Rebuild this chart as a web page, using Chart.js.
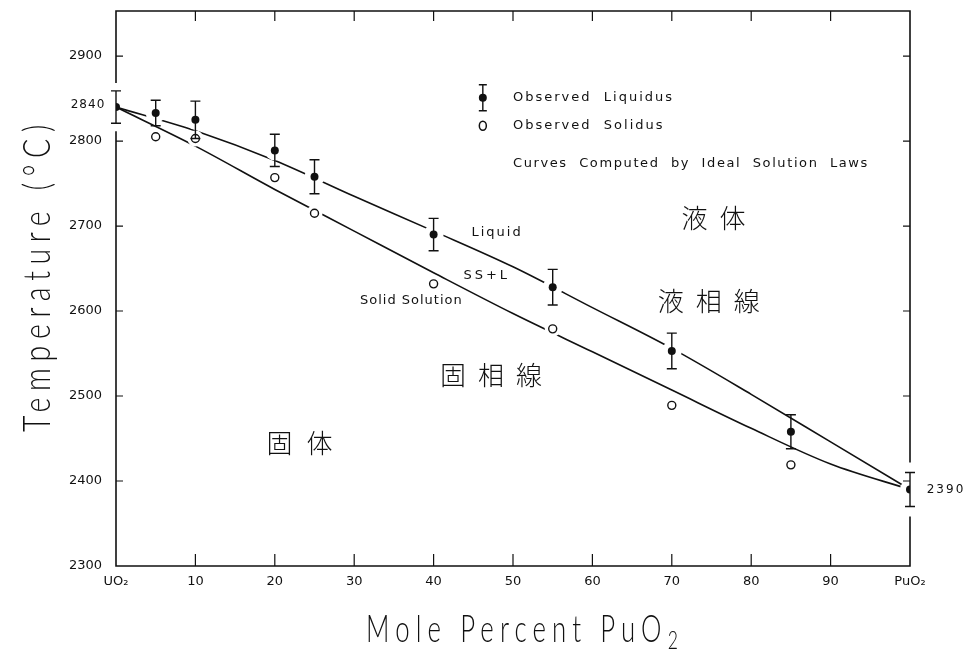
<!DOCTYPE html>
<html>
<head>
<meta charset="utf-8">
<script src="https://cdn.jsdelivr.net/npm/chart.js@4.4.1/dist/chart.umd.min.js"></script>
<style>
  html, body { margin: 0; background: #fff; }
  #wrap { width: 967px; height: 650px; }
</style>
</head>
<body>
<div id="wrap"><canvas id="grafico"></canvas></div>
<script>
// eixos
const xTicks = [0, 10, 20, 30, 40, 50, 60, 70, 80, 90, 100];
const xTickLabels = ['UO₂', '10', '20', '30', '40', '50', '60', '70', '80', '90', 'PuO₂'];
const yTicks = [2300, 2400, 2500, 2600, 2700, 2800, 2900];

// pontos observados (mol % PuO2, °C)
const obsX = [0, 5, 10, 20, 25, 40, 55, 70, 85, 100];
const liquidusObs = [2840, 2833, 2825, 2789, 2758, 2690, 2628, 2553, 2458, 2390];
const liquidusErr = [19, 15, 22, 19, 20, 19, 21, 21, 20, 20];
const solidusX = [5, 10, 20, 25, 40, 55, 70, 85];
const solidusObs = [2805, 2803, 2757, 2715, 2632, 2579, 2489, 2419];

// curvas calculadas (solucao ideal)
const curveX = [0, 10, 20, 30, 40, 50, 60, 70, 80, 90, 100];
const liquidusCurve = [2840, 2812, 2777, 2735, 2694, 2652, 2604, 2556, 2502, 2446, 2390];
const solidusCurve = [2840, 2794, 2743, 2694, 2645, 2597, 2552, 2507, 2462, 2420, 2390];

const pts = (xs, ys) => xs.map((x, i) => ({ x: x, y: ys[i] }));

const INK = '#111';

// moldura com marcas internas
const moldura = {
    id: 'moldura',
    afterDatasetsDraw(chart) {
        const { ctx, chartArea: a, scales: { x, y } } = chart;
        ctx.save();
        ctx.strokeStyle = INK;
        ctx.lineWidth = 1.6;
        const gapTopL = y.getPixelForValue(liquidusObs[0] + liquidusErr[0]) - 8;
        const gapBotL = y.getPixelForValue(liquidusObs[0] - liquidusErr[0]) + 8;
        const n = liquidusObs.length - 1;
        const gapTopR = y.getPixelForValue(liquidusObs[n] + liquidusErr[n]) - 10;
        const gapBotR = y.getPixelForValue(liquidusObs[n] - liquidusErr[n]) + 10;
        ctx.beginPath();
        ctx.moveTo(a.left, gapTopL); ctx.lineTo(a.left, a.top); ctx.lineTo(a.right, a.top); ctx.lineTo(a.right, gapTopR);
        ctx.moveTo(a.right, gapBotR); ctx.lineTo(a.right, a.bottom); ctx.lineTo(a.left, a.bottom); ctx.lineTo(a.left, gapBotL);
        ctx.stroke();
        ctx.lineWidth = 1.2;
        ctx.beginPath();
        xTicks.slice(1, -1).forEach(v => {
            const px = x.getPixelForValue(v);
            ctx.moveTo(px, a.bottom); ctx.lineTo(px, a.bottom - 12);
            ctx.moveTo(px, a.top); ctx.lineTo(px, a.top + 10);
        });
        yTicks.slice(1).forEach(v => {
            const py = y.getPixelForValue(v);
            ctx.moveTo(a.left, py); ctx.lineTo(a.left + 7, py);
            ctx.moveTo(a.right, py); ctx.lineTo(a.right - 7, py);
        });
        ctx.stroke();

        // barras de erro
        ctx.lineWidth = 1.4;
        ctx.beginPath();
        obsX.forEach((v, i) => {
            const px = x.getPixelForValue(v);
            const t = y.getPixelForValue(liquidusObs[i] + liquidusErr[i]);
            const b = y.getPixelForValue(liquidusObs[i] - liquidusErr[i]);
            ctx.moveTo(px, t); ctx.lineTo(px, b);
            ctx.moveTo(px - 5, t); ctx.lineTo(px + 5, t);
            ctx.moveTo(px - 5, b); ctx.lineTo(px + 5, b);
        });
        ctx.stroke();
        ctx.restore();
    }
};

// textos, legenda e titulos dos eixos
const textos = {
    id: 'textos',
    afterDraw(chart) {
        const { ctx, chartArea: a, scales: { x, y } } = chart;
        const X = v => x.getPixelForValue(v), Y = v => y.getPixelForValue(v);
        ctx.save();
        ctx.fillStyle = INK;
        ctx.strokeStyle = INK;
        ctx.textBaseline = 'middle';

        const txt = (s, px, py, font, spacing, align) => {
            ctx.font = font;
            ctx.letterSpacing = spacing;
            ctx.textAlign = align || 'center';
            ctx.fillText(s, px, py);
        };
        const sans = '13px "DejaVu Sans"';
        // legenda
        const lx = X(46.2);
        const ly1 = Y(2851), ly2 = Y(2818);
        ctx.lineWidth = 1.4;
        ctx.beginPath();
        ctx.moveTo(lx, ly1 - 13); ctx.lineTo(lx, ly1 + 13);
        ctx.moveTo(lx - 4, ly1 - 13); ctx.lineTo(lx + 4, ly1 - 13);
        ctx.moveTo(lx - 4, ly1 + 13); ctx.lineTo(lx + 4, ly1 + 13);
        ctx.stroke();
        ctx.beginPath(); ctx.arc(lx, ly1, 4, 0, Math.PI * 2); ctx.fill();
        ctx.lineWidth = 1.5;
        ctx.beginPath(); ctx.ellipse(lx, ly2, 3.5, 4.5, 0, 0, Math.PI * 2); ctx.stroke();
        txt('Observed  Liquidus', X(50), ly1, sans, '2px', 'left');
        txt('Observed  Solidus', X(50), ly2, sans, '2px', 'left');
        txt('Curves  Computed  by  Ideal  Solution  Laws', X(50), Y(2773), sans, '1.6px', 'left');

        // regioes
        txt('Liquid', X(48), Y(2692), sans, '2px');
        txt('SS+L', X(46.7), Y(2642), sans, '3px');
        txt('Solid Solution', X(37.2), Y(2612), '13px "DejaVu Sans"', '1px');
        const cjk = '300 26px "Noto Sans CJK JP"';
        txt('液体', X(76), Y(2709), cjk, '12px');
        txt('液相線', X(75.4), Y(2612), cjk, '12px');
        txt('固相線', X(48), Y(2525), cjk, '12px');
        txt('固体', X(24), Y(2444), cjk, '14px');

        // valores extremos
        txt('2840', a.left - 28, Y(liquidusObs[0]) - 2, '12px "DejaVu Sans"', '1px');
        txt('2390', a.right + 36, Y(liquidusObs[liquidusObs.length - 1]), '12px "DejaVu Sans"', '2px');

        // titulos: letra alta e estreita, ajustada a largura alvo
        ctx.textBaseline = 'alphabetic';
        ctx.textAlign = 'left';
        const big = '300 38px Lato', small = '300 26px Lato';
        const titulo = (main, sub, alvo) => {
            ctx.letterSpacing = '9px';
            ctx.font = big;
            const w1 = ctx.measureText(main).width;
            ctx.font = small;
            const w2 = sub ? ctx.measureText(sub).width : 0;
            const w = w1 + w2;
            ctx.scale(alvo / w, 1);
            ctx.font = big; ctx.fillText(main, -w / 2, 0);
            if (sub) { ctx.font = small; ctx.fillText(sub, -w / 2 + w1, 7); }
        };
        ctx.save();
        ctx.translate(X(0) + 409, a.bottom + 76);
        titulo('Mole Percent PuO', '2', 318);
        ctx.restore();

        ctx.save();
        ctx.translate(50, 275);
        ctx.rotate(-Math.PI / 2);
        titulo('Temperature (°C)', '', 314);
        ctx.restore();

        ctx.restore();
    }
};

const semMargem = s => { s.paddingTop = 0; s.paddingBottom = 0; s.paddingLeft = 0; s.paddingRight = 0; };

const ctx = document.getElementById('grafico').getContext('2d');
const diagrama = new Chart(ctx, {
    type: 'scatter',
    data: {
        datasets: [
            {
                type: 'line',
                label: 'Liquidus (calc.)',
                data: pts(curveX, liquidusCurve),
                borderColor: INK, borderWidth: 1.6,
                pointRadius: 0, tension: 0.2, cubicInterpolationMode: 'monotone',
                order: 5
            },
            {
                type: 'line',
                label: 'Solidus (calc.)',
                data: pts(curveX, solidusCurve),
                borderColor: INK, borderWidth: 1.6,
                pointRadius: 0, tension: 0.2, cubicInterpolationMode: 'monotone',
                order: 5
            },
            {
                label: 'halo liquidus',
                data: pts(obsX.slice(1), liquidusObs.slice(1)),
                pointRadius: 10, pointBackgroundColor: '#fff', pointBorderWidth: 0,
                order: 4
            },
            {
                label: 'halo solidus',
                data: pts(solidusX, solidusObs),
                pointRadius: 8, pointBackgroundColor: '#fff', pointBorderWidth: 0,
                order: 4
            },
            {
                label: 'Observed Liquidus',
                data: pts(obsX, liquidusObs),
                pointRadius: 4, pointBackgroundColor: INK, pointBorderColor: INK, pointBorderWidth: 0,
                order: 1
            },
            {
                label: 'Observed Solidus',
                data: pts(solidusX, solidusObs),
                pointRadius: 4, pointBackgroundColor: '#fff', pointBorderColor: INK, pointBorderWidth: 1.4,
                order: 1
            }
        ]
    },
    options: {
        responsive: true,
        maintainAspectRatio: false,
        animation: false,
        layout: { padding: { top: 11, right: 57, left: 0, bottom: 0 } },
        plugins: { legend: { display: false }, tooltip: { enabled: false } },
        scales: {
            x: {
                type: 'linear', min: 0, max: 100,
                afterBuildTicks: s => { s.ticks = xTicks.map(v => ({ value: v })); },
                afterFit: s => { s.height = 84; semMargem(s); },
                grid: { display: false, drawTicks: false },
                border: { display: false },
                ticks: {
                    autoSkip: false, maxRotation: 0, padding: 8, color: INK,
                    font: { family: 'DejaVu Sans', size: 13 },
                    callback: v => xTickLabels[xTicks.indexOf(v)]
                }
            },
            y: {
                min: 2300, max: 2953,
                afterBuildTicks: s => { s.ticks = yTicks.map(v => ({ value: v })); },
                afterFit: s => { s.width = 116; semMargem(s); },
                grid: { display: false, drawTicks: false },
                border: { display: false },
                ticks: {
                    padding: 14, color: INK,
                    font: { family: 'DejaVu Sans', size: 13 },
                    callback: v => String(v)
                }
            }
        }
    },
    plugins: [moldura, textos]
});
</script>
</body>
</html>
